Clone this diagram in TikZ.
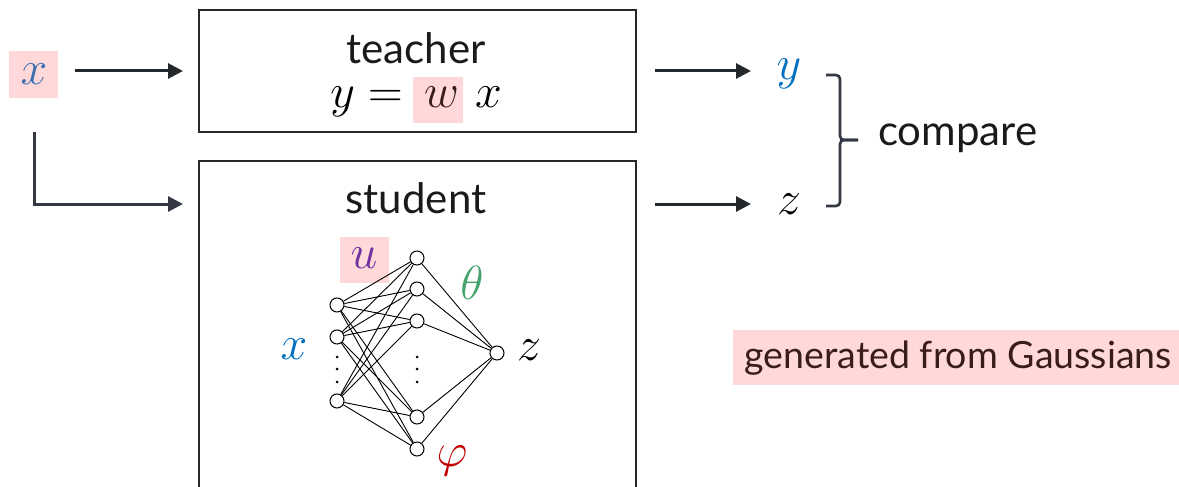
\documentclass[tikz,border=0pt]{standalone}
\usepackage{fix-cm}
\usepackage{fontspec}
\setmainfont{Lato}
\usetikzlibrary{arrows.meta}
\definecolor{pinkbg}{HTML}{FFD9D9}
\definecolor{xblue}{HTML}{3F6FB0}
\definecolor{mblue}{HTML}{0070C0}
\definecolor{thgreen}{HTML}{45A36E}
\definecolor{phred}{HTML}{C00000}
\definecolor{upurple}{HTML}{7030A0}
\definecolor{arrowc}{HTML}{23282C}
\definecolor{elbowc}{HTML}{333843}
\definecolor{txtc}{HTML}{1A1A1A}
\definecolor{gauss}{HTML}{3A1C1C}
\tikzset{
  arr/.style={line width=3pt, draw=arrowc, -{Triangle[length=15pt,width=15pt]}},
  frame/.style={draw=arrowc, line width=1.6pt},
  lbl/.style={inner sep=0pt, text=txtc, font=\fontsize{42}{48}\selectfont},
  ml/.style={inner sep=0pt, font=\fontsize{48}{54}\selectfont},
  pinkbox/.style={fill=pinkbg, draw=none},
  neuron/.style={circle, draw=black, fill=white, line width=1pt, minimum size=14pt, inner sep=0pt},
  edge/.style={draw=black, line width=0.9pt},
  brk/.style={draw=elbowc, line width=2.6pt, rounded corners=4pt},
  dotc/.style={fill=black, circle, inner sep=0pt, minimum size=3pt}
}
\begin{document}
\begin{tikzpicture}[x=1pt,y=-1pt]
\useasboundingbox (0,0) rectangle (1179,487);
\clip (0,0) rectangle (1179,487);
% input x
\fill[pinkbox] (9,51) rectangle (58,98);
\node[ml, text=xblue] (xin) at (34,74) {$x$};
% teacher
\node[frame, minimum width=437pt, minimum height=122pt, anchor=north west] (teacher) at (198,9) {};
\node[lbl] (tlab) at (416,48) {teacher};
\fill[pinkbox] (413,77) rectangle (463,123);
\node[ml, text=black] (teq) at (416,102) {$y=\,\mathord{\color{gauss}w}\,\,x$};
% student
\node[frame, minimum width=437pt, minimum height=340pt, anchor=north west] (student) at (198,160) {};
\node[lbl] (slab) at (416,198) {student};
% arrows left
\coordinate (a1s) at (75,71);
\coordinate (a1e) at (183,71);
\draw[arr] (a1s) -- (a1e);
\coordinate (a2s) at (34,132);
\coordinate (a2e) at (183,204);
\draw[arr, draw=elbowc] (a2s) |- (a2e);
% arrows right
\coordinate (a3s) at (655,71);
\coordinate (a3e) at (751,71);
\draw[arr] (a3s) -- (a3e);
\coordinate (a4s) at (655,204);
\coordinate (a4e) at (751,204);
\draw[arr] (a4s) -- (a4e);
\node[ml, text=mblue] (yout) at (789,74) {$y$};
\node[ml, text=black] (zout) at (789,204) {$z$};
% bracket
\coordinate (bt) at (826,75);
\coordinate (bb) at (826,206);
\coordinate (bm) at (858,140);
\draw[brk] (bt) -- (840,75) -- (840,140) -- (bm);
\draw[brk] (bb) -- (840,206) -- (840,140) -- (bm);
\node[lbl, anchor=west] (cmp) at (878,138) {compare};
% gaussians
\node[pinkbox, minimum width=446pt, minimum height=55pt, anchor=north west, inner sep=0pt] (gbox) at (733,330) {};
\node[lbl, text=gauss, font=\fontsize{37.5}{42}\selectfont] (gtxt) at ([xshift=2pt]gbox.center) {generated from Gaussians};
% network
\fill[pinkbox] (340,237) rectangle (389,283);
\node[ml, text=upurple] (ulab) at (364,258) {$u$};
\node[neuron] (i1) at (337,305) {};
\node[neuron] (i2) at (337,337) {};
\node[neuron] (i3) at (337,401) {};
\node[neuron] (h1) at (417,258) {};
\node[neuron] (h2) at (417,289) {};
\node[neuron] (h3) at (417,321) {};
\node[neuron] (h4) at (417,417) {};
\node[neuron] (h5) at (417,449) {};
\node[neuron] (o1) at (497,353) {};
\foreach \i in {i1,i2,i3}{
  \foreach \h in {h1,h2,h3,h4,h5}{
    \draw[edge] (\i) -- (\h);
  }
}
\foreach \h in {h1,h2,h3,h4,h5}{
  \draw[edge] (\h) -- (o1);
}
\foreach \y [count=\k] in {357,369,382}{
  \node[dotc] (di\k) at (337,\y) {};
  \node[dotc] (dh\k) at (417,\y) {};
}
\node[ml, text=mblue] (xnet) at (294,349) {$x$};
\node[ml, text=black] (znet) at (529,350) {$z$};
\node[ml, text=thgreen] (th) at (472,283) {$\theta$};
\node[ml, text=phred] (ph) at (452,461) {$\varphi$};
\end{tikzpicture}
\end{document}
